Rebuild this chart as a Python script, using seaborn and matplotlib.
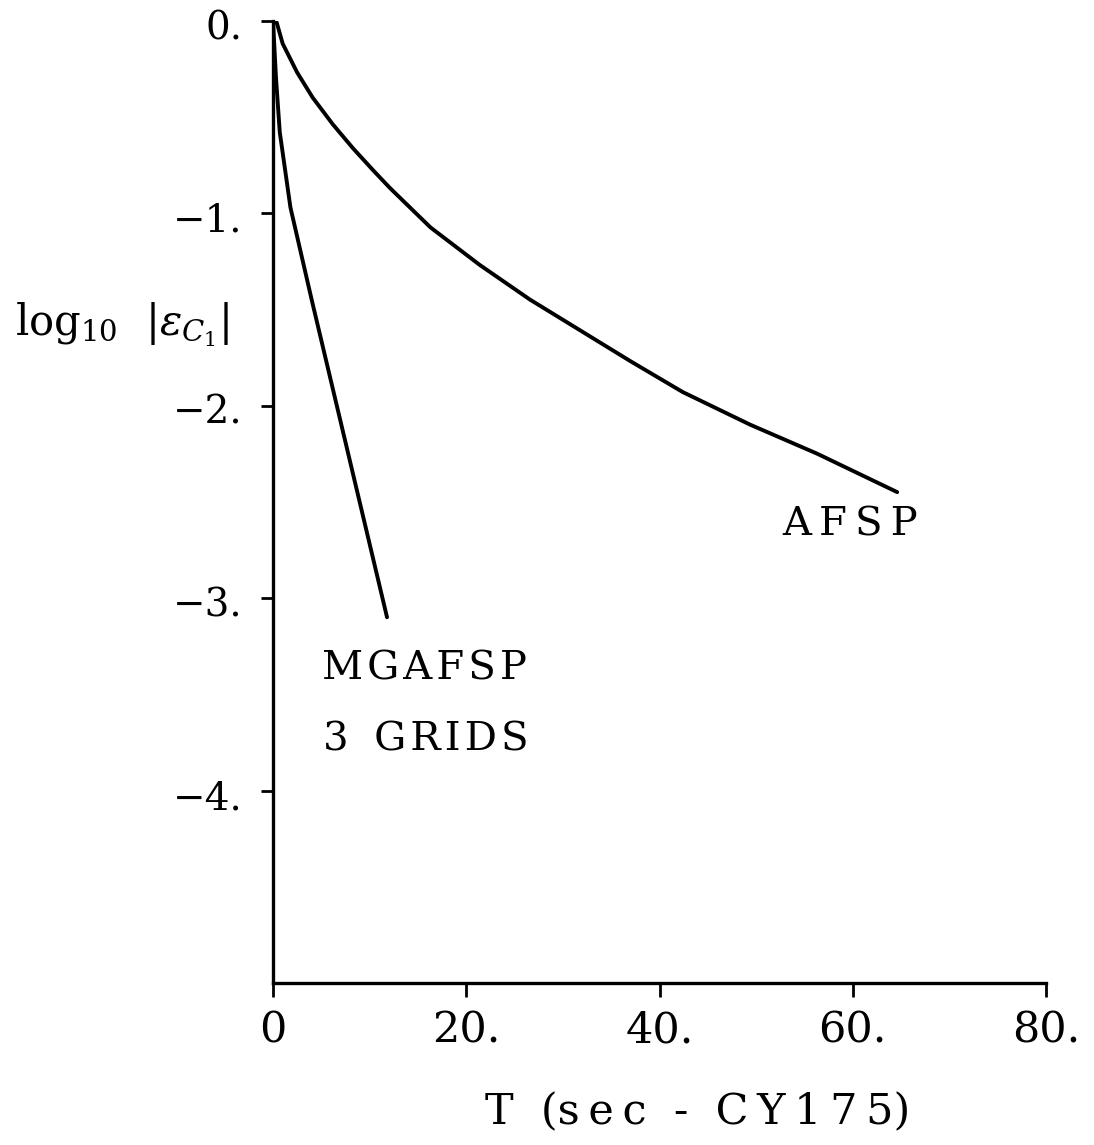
import matplotlib
matplotlib.use("Agg")
import matplotlib.pyplot as plt
import matplotlib.transforms as mtrans
import pandas as pd
import seaborn as sns

sns.set_style("ticks")
plt.rcParams["font.family"] = ["DejaVu Serif"]
plt.rcParams["mathtext.fontset"] = "dejavuserif"
for k in ["text.color", "axes.labelcolor", "xtick.color", "ytick.color", "axes.edgecolor"]:
    plt.rcParams[k] = "black"

# DATA
afsp_t = [0.0, 0.38, 1.0, 2.5, 4.1, 6.2, 8.3, 10.4, 12.1, 16.3, 21.4, 26.6,
          31.8, 37.0, 42.4, 49.4, 56.3, 64.6]
afsp_log = [0.0, -0.01, -0.12, -0.27, -0.40, -0.54, -0.665, -0.78, -0.87, -1.075,
            -1.27, -1.45, -1.61, -1.77, -1.93, -2.10, -2.25, -2.45]

mg_t = [0.0, 0.3, 0.7, 1.8, 4.0, 11.8]
mg_log = [0.0, -0.29, -0.58, -0.97, -1.45, -3.10]

x_ticks = [0, 20, 40, 60, 80]
x_labels = ["0", "20.", "40.", "60.", "80."]
y_ticks = [0, -1, -2, -3, -4]
y_labels = ["0.", "\u22121.", "\u22122.", "\u22123.", "\u22124."]


def spaced(s, gap="\u2009"):
    # old plotter lettering is spread out a bit
    return gap.join(s)


df = pd.concat([
    pd.DataFrame({"T": afsp_t, "log": afsp_log, "run": "AFSP"}),
    pd.DataFrame({"T": mg_t, "log": mg_log, "run": "MGAFSP"}),
])

fig = plt.figure(figsize=(10.94, 11.45), dpi=100)
ax = fig.add_axes([273 / 1094, 1 - 983 / 1145, 773 / 1094, 962.5 / 1145])

sns.lineplot(data=df, x="T", y="log", units="run", estimator=None, sort=False,
             color="black", linewidth=2.8, ax=ax, legend=False)

ax.set_xlim(0, 80)
ax.set_ylim(-5, 0)
ax.set_xticks(x_ticks)
ax.set_xticklabels(x_labels, fontsize=31)
ax.set_yticks(y_ticks)
ax.set_yticklabels(y_labels, fontsize=28)
ax.tick_params(axis="x", length=10, width=2, pad=9, direction="out")
ax.tick_params(axis="y", length=9, width=2, pad=13, direction="out")
shift = mtrans.ScaledTranslation(0, -0.04, fig.dpi_scale_trans)
for lab in ax.get_yticklabels():
    lab.set_transform(lab.get_transform() + shift)
ax.set_xlabel("")
ax.set_ylabel("")
for s in ["top", "right"]:
    ax.spines[s].set_visible(False)
for s in ["left", "bottom"]:
    ax.spines[s].set_linewidth(2.4)

# curve labels
ax.text(52.7, -2.62, spaced("AFSP"), fontsize=29, ha="left", va="center")
ax.text(5.1, -3.37, spaced("MGAFSP", "\u200a"), fontsize=29, ha="left", va="center")
ax.text(5.2, -3.74, "3  " + spaced("GRIDS", "\u200a"), fontsize=29, ha="left", va="center")

# axis titles
fig.text(698 / 1094, 1 - 1112 / 1145, "T  (" + spaced("sec") + "  -  " + spaced("CY175") + ")",
         fontsize=31, ha="center", va="center")
fig.text(15 / 1094, 1 - 325 / 1145, r"log$_{10}$  $|\varepsilon_{C_1}|$",
         fontsize=30, ha="left", va="center")

fig.savefig("out.png", dpi=100)
